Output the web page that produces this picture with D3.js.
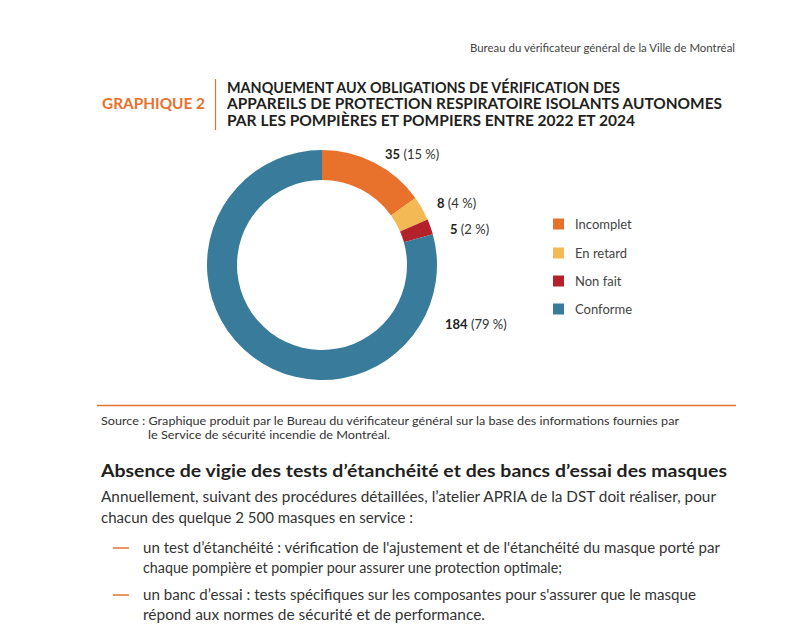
<!DOCTYPE html>
<html><head><meta charset="utf-8">
<script src="https://cdn.jsdelivr.net/npm/d3@7"></script>
<style>
html,body{margin:0;padding:0;background:#fff;}
svg{display:block;}
text{font-family:Lato,"Open Sans",sans-serif;}
</style></head>
<body>
<svg id="c" width="790" height="640"></svg>
<script>
const categories = ["Incomplet", "En retard", "Non fait", "Conforme"];
const values = [35, 8, 5, 184];
const percents = [15, 4, 2, 79];
const colors = ["#E8712B", "#F2B955", "#B3212A", "#387B9B"];

const svg = d3.select("#c");

// Header
svg.append("text").attr("x", 470).attr("y", 52)
  .attr("font-size", 11).attr("fill", "#444")
  .attr("textLength", 265).attr("lengthAdjust", "spacingAndGlyphs")
  .text("Bureau du vérificateur général de la Ville de Montréal");

// Title
svg.append("text").attr("x", 102).attr("y", 109).attr("font-size", 14.5)
  .attr("font-weight", "bold").attr("fill", "#E8712B")
  .attr("textLength", 103).attr("lengthAdjust", "spacingAndGlyphs")
  .text("GRAPHIQUE 2");
svg.append("line").attr("x1", 215.5).attr("x2", 215.5).attr("y1", 79).attr("y2", 130)
  .attr("stroke", "#E8712B").attr("stroke-width", 1.2);
const titleLines = [
  ["MANQUEMENT AUX OBLIGATIONS DE VÉRIFICATION DES", 93, 393],
  ["APPAREILS DE PROTECTION RESPIRATOIRE ISOLANTS AUTONOMES", 109, 495],
  ["PAR LES POMPIÈRES ET POMPIERS ENTRE 2022 ET 2024", 126, 408]
];
titleLines.forEach(([t, y, w]) => {
  svg.append("text").attr("x", 227).attr("y", y).attr("font-size", 14.5)
    .attr("font-weight", "bold").attr("fill", "#231f20")
    .attr("textLength", w).attr("lengthAdjust", "spacingAndGlyphs").text(t);
});

// Donut
const cx = 322, cy = 265, rOut = 115, rIn = 85;
const data = categories.map((c, i) => ({cat: c, value: values[i], pct: percents[i], color: colors[i]}));
const pie = d3.pie().value(d => d.value).sort(null);
const arc = d3.arc().innerRadius(rIn).outerRadius(rOut);
const g = svg.append("g").attr("transform", `translate(${cx},${cy})`);
const arcs = pie(data);
g.selectAll("path").data(arcs).join("path")
  .attr("d", arc).attr("fill", d => d.data.color);

// Labels
const labelPos = [[385, 159], [437, 208], [450, 234], [445, 329]];
arcs.forEach((a, i) => {
  const t = svg.append("text").attr("x", labelPos[i][0]).attr("y", labelPos[i][1])
    .attr("font-size", 13).attr("fill", "#333");
  t.append("tspan").attr("font-weight", "bold").attr("fill", "#231f20").text(a.data.value);
  t.append("tspan").text(` (${a.data.pct} %)`);
});

// Legend
const leg = svg.append("g");
categories.forEach((c, i) => {
  const y = [224, 253, 281, 309][i];
  leg.append("rect").attr("x", 553).attr("y", y - 5.5).attr("width", 11).attr("height", 11)
    .attr("fill", colors[i]);
  leg.append("text").attr("x", 575).attr("y", y + 4.5).attr("font-size", 13)
    .attr("fill", "#444").text(c);
});

// Rule and source
svg.append("line").attr("x1", 97).attr("x2", 736).attr("y1", 405.5).attr("y2", 405.5)
  .attr("stroke", "#E8712B").attr("stroke-width", 1.3);
svg.append("text").attr("x", 101).attr("y", 425).attr("font-size", 11).attr("fill", "#333")
  .attr("textLength", 578).attr("lengthAdjust", "spacingAndGlyphs")
  .text("Source : Graphique produit par le Bureau du vérificateur général sur la base des informations fournies par");
svg.append("text").attr("x", 148).attr("y", 439).attr("font-size", 11).attr("fill", "#333")
  .attr("textLength", 242).attr("lengthAdjust", "spacingAndGlyphs")
  .text("le Service de sécurité incendie de Montréal.");

// Body text
svg.append("text").attr("x", 101).attr("y", 477).attr("font-size", 16.5).attr("font-weight", "bold")
  .attr("fill", "#231f20").attr("textLength", 626).attr("lengthAdjust", "spacingAndGlyphs")
  .text("Absence de vigie des tests d’étanchéité et des bancs d’essai des masques");
const body = [
  [101, 502, 615, "Annuellement, suivant des procédures détaillées, l’atelier APRIA de la DST doit réaliser, pour"],
  [101, 523, 312, "chacun des quelque 2 500 masques en service :"],
  [143, 553, 577, "un test d’étanchéité : vérification de l'ajustement et de l'étanchéité du masque porté par"],
  [143, 573, 419, "chaque pompière et pompier pour assurer une protection optimale;"],
  [143, 600, 553, "un banc d’essai : tests spécifiques sur les composantes pour s'assurer que le masque"],
  [143, 620, 342, "répond aux normes de sécurité et de performance."]
];
body.forEach(([x, y, w, t]) => {
  svg.append("text").attr("x", x).attr("y", y).attr("font-size", 14.5).attr("fill", "#333")
    .attr("textLength", w).attr("lengthAdjust", "spacingAndGlyphs").text(t);
});
[548, 595].forEach(y => {
  svg.append("line").attr("x1", 113).attr("x2", 129).attr("y1", y).attr("y2", y)
    .attr("stroke", "#E8712B").attr("stroke-width", 1.5);
});
</script>
</body></html>
